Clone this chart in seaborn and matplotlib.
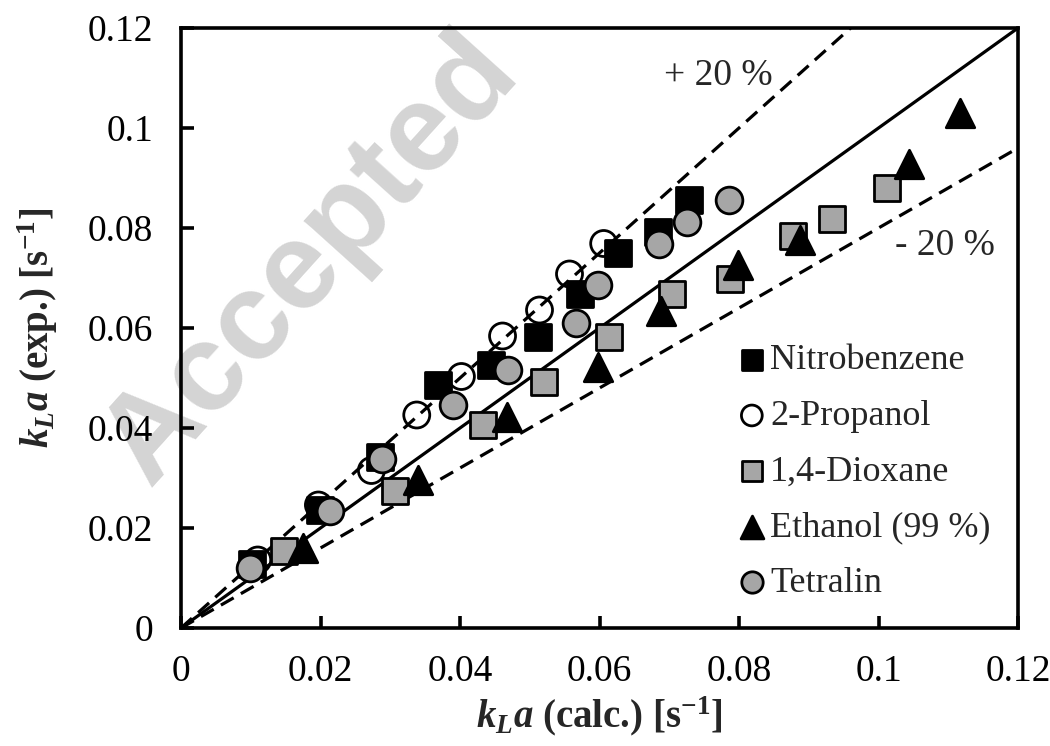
import numpy as np
import pandas as pd
import matplotlib
matplotlib.use("Agg")
import matplotlib.pyplot as plt
import seaborn as sns

# ---------------- data ----------------
nitro_x = [0.0102, 0.0199, 0.0286, 0.0369, 0.0445, 0.0512, 0.0572, 0.0627, 0.0684, 0.0729]
nitro_y = [0.0128, 0.0236, 0.0343, 0.0486, 0.0526, 0.0583, 0.0669, 0.0751, 0.0793, 0.0856]

prop_x = [0.0110, 0.0197, 0.0273, 0.0338, 0.0402, 0.0461, 0.0514, 0.0557, 0.0606]
prop_y = [0.0136, 0.0246, 0.0315, 0.0426, 0.0503, 0.0584, 0.0636, 0.0708, 0.0769]

diox_x = [0.0147, 0.0307, 0.0433, 0.0520, 0.0614, 0.0704, 0.0787, 0.0878, 0.0934, 0.1012]
diox_y = [0.0155, 0.0274, 0.0406, 0.0493, 0.0583, 0.0669, 0.0699, 0.0785, 0.0819, 0.0879]

eth_x = [0.0175, 0.0340, 0.0467, 0.0598, 0.0688, 0.0799, 0.0888, 0.1044, 0.1117]
eth_y = [0.0160, 0.0296, 0.0423, 0.0523, 0.0635, 0.0726, 0.0776, 0.0929, 0.1030]

tetr_x = [0.0099, 0.0213, 0.0288, 0.0390, 0.0469, 0.0566, 0.0598, 0.0686, 0.0725, 0.0786]
tetr_y = [0.0121, 0.0235, 0.0339, 0.0446, 0.0516, 0.0611, 0.0686, 0.0768, 0.0813, 0.0857]

series_names = ["Nitrobenzene", "2-Propanol", "1,4-Dioxane", "Ethanol (99 %)", "Tetralin"]

tick_values = [0, 0.02, 0.04, 0.06, 0.08, 0.1, 0.12]
tick_labels = ["0", "0.02", "0.04", "0.06", "0.08", "0.1", "0.12"]

parity_slopes = [1.0, 1.25, 0.8]   # 1:1 line, +20 %, -20 %

# ---------------- style ----------------
sns.set_theme(style="white")
plt.rcParams["font.family"] = ["Liberation Serif", "DejaVu Serif"]
plt.rcParams["mathtext.fontset"] = "custom"
plt.rcParams["mathtext.rm"] = "Liberation Serif:bold"
plt.rcParams["mathtext.it"] = "Liberation Serif:italic:bold"
plt.rcParams["mathtext.bf"] = "Liberation Serif:bold"

W, H = 1050, 746
fig = plt.figure(figsize=(W / 100, H / 100), dpi=100)
ax = fig.add_axes([181 / W, 1 - 628 / H, (1018 - 181) / W, (628 - 28) / H])
ax.patch.set_alpha(0)

# watermark behind everything
fig.text(150 / W, 1 - 488 / H, "Accepted", fontsize=89,
         family="Liberation Sans", fontweight="bold", color="#d4d4d4",
         rotation=48, rotation_mode="anchor", ha="left", va="baseline",
         zorder=-5)

# reference lines
dash = (0, (4.6, 2.6))
ax.axline((0, 0), slope=parity_slopes[0], color="black", lw=2.3, zorder=2)
ax.axline((0, 0), slope=parity_slopes[1], color="black", lw=2.3,
          linestyle=dash, zorder=2)
ax.axline((0, 0), slope=parity_slopes[2], color="black", lw=2.3,
          linestyle=dash, zorder=2)

gray = "#a6a6a6"
specs = [
    # name, x, y, marker, face, edge, size, zorder
    (series_names[1], prop_x, prop_y, "o", "none", "black", 350, 3),
    (series_names[0], nitro_x, nitro_y, "s", "black", "black", 350, 4),
    (series_names[2], diox_x, diox_y, "s", gray, "black", 350, 5),
    (series_names[3], eth_x, eth_y, "^", "black", "black", 420, 6),
    (series_names[4], tetr_x, tetr_y, "o", gray, "black", 370, 7),
]
for name, xs, ys, mk, fc, ec, s, z in specs:
    df = pd.DataFrame({"x": xs, "y": ys})
    sns.scatterplot(data=df, x="x", y="y", ax=ax, marker=mk, s=s,
                    color=fc if fc != "none" else "white",
                    facecolor=fc, edgecolor=ec, linewidth=2.0,
                    label=name, zorder=z)

ax.set_xlim(0, 0.12)
ax.set_ylim(0, 0.12)
ax.set_xticks(tick_values)
ax.set_yticks(tick_values)
ax.set_xticklabels(tick_labels)
ax.set_yticklabels(tick_labels)
ax.tick_params(axis="both", direction="in", length=9, width=2.6, labelsize=27,
               colors="black", bottom=True, left=True, top=False, right=False)
ax.tick_params(axis="x", pad=19)
ax.tick_params(axis="y", pad=20)
for sp in ax.spines.values():
    sp.set_visible(True)
    sp.set_color("black")
    sp.set_linewidth(2.6)

ax.set_xlabel(r"$k_La$ (calc.) [s$^{\mathrm{-1}}$]", fontsize=28,
              fontweight="bold", labelpad=4)
ax.set_ylabel(r"$k_La$ (exp.) [s$^{\mathrm{-1}}$]", fontsize=28,
              fontweight="bold")
ax.yaxis.set_label_coords(-0.145, 0.5)

ax.text(0.077, 0.1104, "+ 20 %", fontsize=27, ha="center", va="center")
ax.text(0.1095, 0.0764, "- 20 %", fontsize=27, ha="center", va="center")

handles, labels = ax.get_legend_handles_labels()
order = [labels.index(n) for n in series_names]
ax.legend([handles[i] for i in order], [labels[i] for i in order],
          loc="upper left", bbox_to_anchor=(741 / W, 1 - 344 / H),
          bbox_transform=fig.transFigure, frameon=False, fontsize=26,
          markerscale=0.8, handlelength=0.6, handletextpad=0.2,
          labelspacing=0.62, borderpad=0, borderaxespad=0)

fig.savefig("out.png", dpi=100)
